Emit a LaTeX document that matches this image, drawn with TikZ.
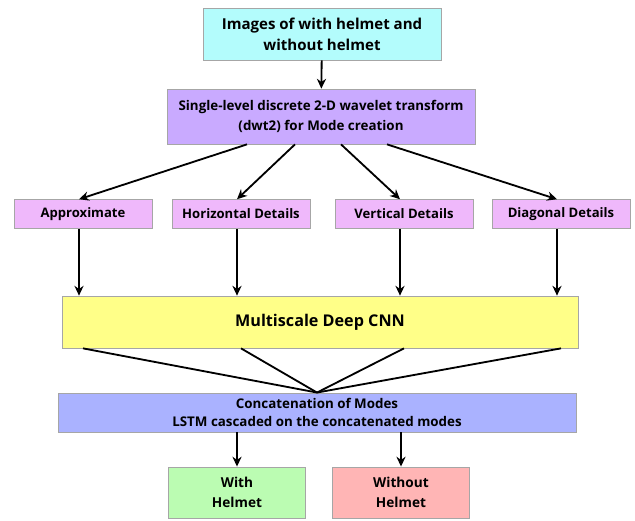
\documentclass[tikz,border=0pt]{standalone}
\usepackage{fontspec}
\setmainfont{Open Sans}
\usepackage{tikz}
\usetikzlibrary{arrows.meta,calc,positioning}
\tikzstyle{arrow} = [line width=1.3pt, -{Stealth[length=7pt,width=6.5pt]}]
\definecolor{topcol}{HTML}{B3FCFC}
\definecolor{dwtcol}{HTML}{C9AAFF}
\definecolor{modecol}{HTML}{EFB8FB}
\definecolor{cnncol}{HTML}{FFFF88}
\definecolor{catcol}{HTML}{AAB2FF}
\definecolor{withcol}{HTML}{BBFCB2}
\definecolor{nocol}{HTML}{FFB5B5}

\begin{document}
\begin{tikzpicture}[x=0.025cm,y=-0.025cm]
\tikzset{box/.style={draw=black!35,line width=0.5pt,align=center,font=\bfseries,inner sep=2pt}}
\useasboundingbox (0,0) rectangle (635,520);

\node[box,fill=topcol,minimum width=5.95cm,minimum height=1.3cm,font=\bfseries\fontsize{10.7}{15}\selectfont] (img) at (322,34) {Images of with helmet and\\without helmet};
\node[box,fill=dwtcol,minimum width=7.7cm,minimum height=1.375cm,font=\bfseries\fontsize{9.5}{14}\selectfont] (dwt) at (321,116.5) {Single-level discrete 2-D wavelet transform\\(dwt2) for Mode creation};

\foreach \n/\x/\t in {apx/83/Approximate,hor/241/Horizontal Details,ver/404/Vertical Details,dia/561/Diagonal Details}
\node[box,fill=modecol,minimum width=3.45cm,minimum height=0.72cm,font=\bfseries\fontsize{9.3}{10}\selectfont] (\n) at (\x,214) {\t};

\node[box,fill=cnncol,minimum width=12.9cm,minimum height=1.3cm,font=\bfseries\fontsize{11.5}{14}\selectfont] (cnn) at (320,322) {Multiscale Deep CNN};
\node[box,fill=catcol,minimum width=12.95cm,minimum height=0.98cm,font=\bfseries\fontsize{9.5}{12.5}\selectfont] (cat) at (317,412.5) {Concatenation of Modes\\LSTM cascaded on the concatenated modes};

\node[box,fill=withcol,minimum width=3.43cm,minimum height=1.28cm,font=\bfseries\fontsize{9.7}{14.5}\selectfont] (yes) at (237,492.5) {With\\Helmet};
\node[box,fill=nocol,minimum width=3.43cm,minimum height=1.28cm,font=\bfseries\fontsize{9.7}{14.5}\selectfont] (no) at (401,492.5) {Without\\Helmet};

\draw[arrow] (img) -- (dwt);
\draw[arrow] ([xshift=-1.85cm]dwt.south) -- ([xshift=-0.1cm]apx.north);
\draw[arrow] ([xshift=-0.65cm]dwt.south) -- ([xshift=-0.1cm]hor.north);
\draw[arrow] ([xshift=0.5cm]dwt.south) -- ([xshift=-0.1cm]ver.north);
\draw[arrow] ([xshift=1.65cm]dwt.south) -- ([xshift=-0.1cm]dia.north);

\foreach \n in {apx,hor,ver,dia}{
\draw[arrow] ([xshift=-0.1cm]\n.south) -- ([xshift=-0.1cm]\n.south |- cnn.north);
\draw[line width=1.3pt] (\n.south |- cnn.south) -- (cat.north); }

\draw[arrow] (cat.south -| yes) -- (yes);
\draw[arrow] (cat.south -| no) -- (no);
\end{tikzpicture}
\end{document}
